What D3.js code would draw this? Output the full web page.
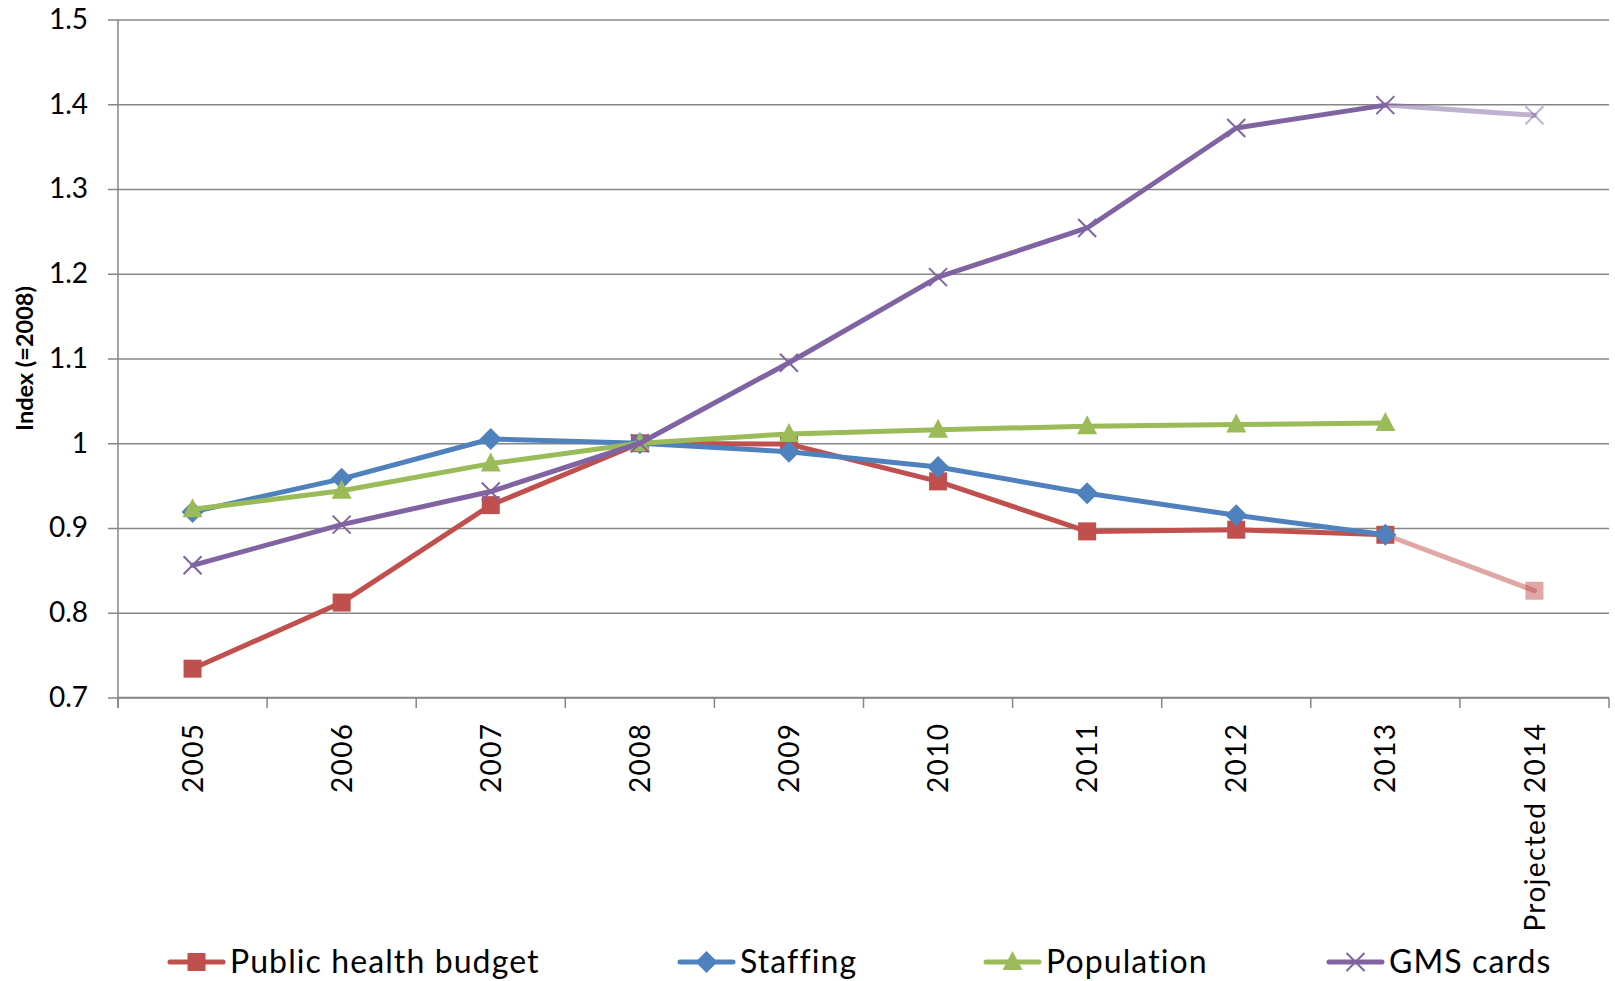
<!DOCTYPE html>
<html><head><meta charset="utf-8">
<script src="https://cdn.jsdelivr.net/npm/d3@7"></script>
<style>
html,body{margin:0;padding:0;background:#fff;}
svg{display:block;font-family:Lato,"Open Sans",sans-serif;}
</style></head>
<body>
<script>
const categories = ["2005","2006","2007","2008","2009","2010","2011","2012","2013","Projected 2014"];
const budget     = [0.734,0.812,0.927,1.000,0.999,0.955,0.896,0.898,0.892,0.826];
const staffing   = [0.919,0.958,1.005,1.000,0.990,0.972,0.941,0.915,0.892,null];
const population = [0.922,0.944,0.976,1.000,1.011,1.016,1.020,1.022,1.024,null];
const gms        = [0.856,0.904,0.943,1.000,1.095,1.196,1.254,1.372,1.399,1.387];
const yTicks = [0.7,0.8,0.9,1.0,1.1,1.2,1.3,1.4,1.5];
const projectedIndex = 9;

const seriesList = [
  {name:"Public health budget", values:budget, color:"#C0504D", marker:"square"},
  {name:"Staffing", values:staffing, color:"#4F81BD", marker:"diamond"},
  {name:"Population", values:population, color:"#9BBB59", marker:"triangle"},
  {name:"GMS cards", values:gms, color:"#8064A2", marker:"cross"}
];

const W = 1615, H = 981;
const svg = d3.select("body").append("svg").attr("width",W).attr("height",H);
const x = d3.scaleBand().domain(categories).range([118,1609]);
const y = d3.scaleLinear().domain([0.7,1.5]).range([697.5,19.5]);
const gridColor = "#868686";

// gridlines + y axis
const yAxis = d3.axisLeft(y).tickValues(yTicks).tickSize(10).tickPadding(20)
  .tickFormat(d => String(+d.toFixed(1)));
const gy = svg.append("g").attr("transform","translate(118,0)").call(yAxis);
gy.select(".domain").remove();
gy.selectAll(".tick line").attr("stroke",gridColor).attr("stroke-width",1.5).attr("x2",1609-118).attr("x1",-10);
gy.selectAll(".tick text").attr("font-size",28).attr("fill","#000").attr("font-family","Lato");
svg.append("line").attr("x1",118).attr("x2",118).attr("y1",19.5).attr("y2",708)
  .attr("stroke",gridColor).attr("stroke-width",1.5);

// x axis
const gx = svg.append("g").attr("transform","translate(0,697.5)")
  .call(d3.axisBottom(x).tickSize(0).tickPadding(0));
gx.select(".domain").remove();
gx.selectAll(".tick text")
  .attr("font-size",28).attr("fill","#000").attr("font-family","Lato")
  .attr("letter-spacing","1.4px")
  .attr("text-anchor","end").attr("transform","translate(0,25) rotate(-90)")
  .attr("dx",0).attr("dy","0.36em").attr("y",0).attr("x",0);
svg.append("line").attr("x1",118).attr("x2",1609).attr("y1",697.5).attr("y2",697.5)
  .attr("stroke",gridColor).attr("stroke-width",1.5);
const bounds = categories.map(c => x(c)).concat([x.range()[1]]);
svg.selectAll(".xtick").data(bounds).enter().append("line")
  .attr("x1",d=>d).attr("x2",d=>d).attr("y1",697.5).attr("y2",708)
  .attr("stroke",gridColor).attr("stroke-width",1.5);

// y title
svg.append("text").attr("transform","translate(33,358.5) rotate(-90)")
  .attr("text-anchor","middle").attr("font-size",23.5).attr("font-weight","bold")
  .attr("font-family","Lato").text("Index (=2008)");

function drawMarker(g, type, cx, cy, color, opacity){
  const s = 9;
  if(type==="square"){
    g.append("rect").attr("x",cx-s).attr("y",cy-s).attr("width",2*s).attr("height",2*s)
      .attr("fill",color).attr("opacity",opacity);
  } else if(type==="diamond"){
    g.append("path").attr("d",`M${cx},${cy-11}L${cx+11},${cy}L${cx},${cy+11}L${cx-11},${cy}Z`)
      .attr("fill",color).attr("opacity",opacity);
  } else if(type==="triangle"){
    g.append("path").attr("d",`M${cx},${cy-11}L${cx+10},${cy+8}L${cx-10},${cy+8}Z`)
      .attr("fill",color).attr("opacity",opacity);
  } else if(type==="cross"){
    g.append("path").attr("d",`M${cx-9},${cy-9}L${cx+9},${cy+9}M${cx-9},${cy+9}L${cx+9},${cy-9}`)
      .attr("stroke",color).attr("stroke-width",2).attr("fill","none").attr("opacity",opacity);
  }
}

const cx = c => x(c) + x.bandwidth()/2;
seriesList.forEach(s => {
  const g = svg.append("g");
  const pts = categories.map((c,i)=>({c, v:s.values[i], i})).filter(p => p.v!==null);
  const main = pts.filter(p => p.i < projectedIndex);
  const proj = pts.filter(p => p.i >= projectedIndex - 1);
  const line = d3.line().x(p=>cx(p.c)).y(p=>y(p.v));
  if(proj.length > 1){
    g.append("path").attr("d",line(proj)).attr("fill","none").attr("stroke",s.color)
      .attr("stroke-width",5).attr("stroke-linejoin","round").attr("stroke-linecap","round").attr("opacity",0.5);
  }
  g.append("path").attr("d",line(main)).attr("fill","none").attr("stroke",s.color)
    .attr("stroke-width",5).attr("stroke-linejoin","round").attr("stroke-linecap","round");
  pts.forEach(p => drawMarker(g, s.marker, cx(p.c), y(p.v), s.color, p.i >= projectedIndex ? 0.5 : 1));
});

// legend
const legendX = [170, 680, 986, 1329];
const legendY = 962;
seriesList.forEach((s,i) => {
  const g = svg.append("g");
  const x0 = legendX[i];
  g.append("line").attr("x1",x0).attr("x2",x0+53).attr("y1",legendY).attr("y2",legendY)
    .attr("stroke",s.color).attr("stroke-width",5).attr("stroke-linecap","round");
  drawMarker(g, s.marker, x0+26.5, legendY, s.color, 1);
  g.append("text").attr("x",x0+60).attr("y",973)
    .attr("font-size",32).attr("letter-spacing","1.1px").attr("font-family","Lato").attr("fill","#000").text(s.name);
});
</script>
</body></html>
